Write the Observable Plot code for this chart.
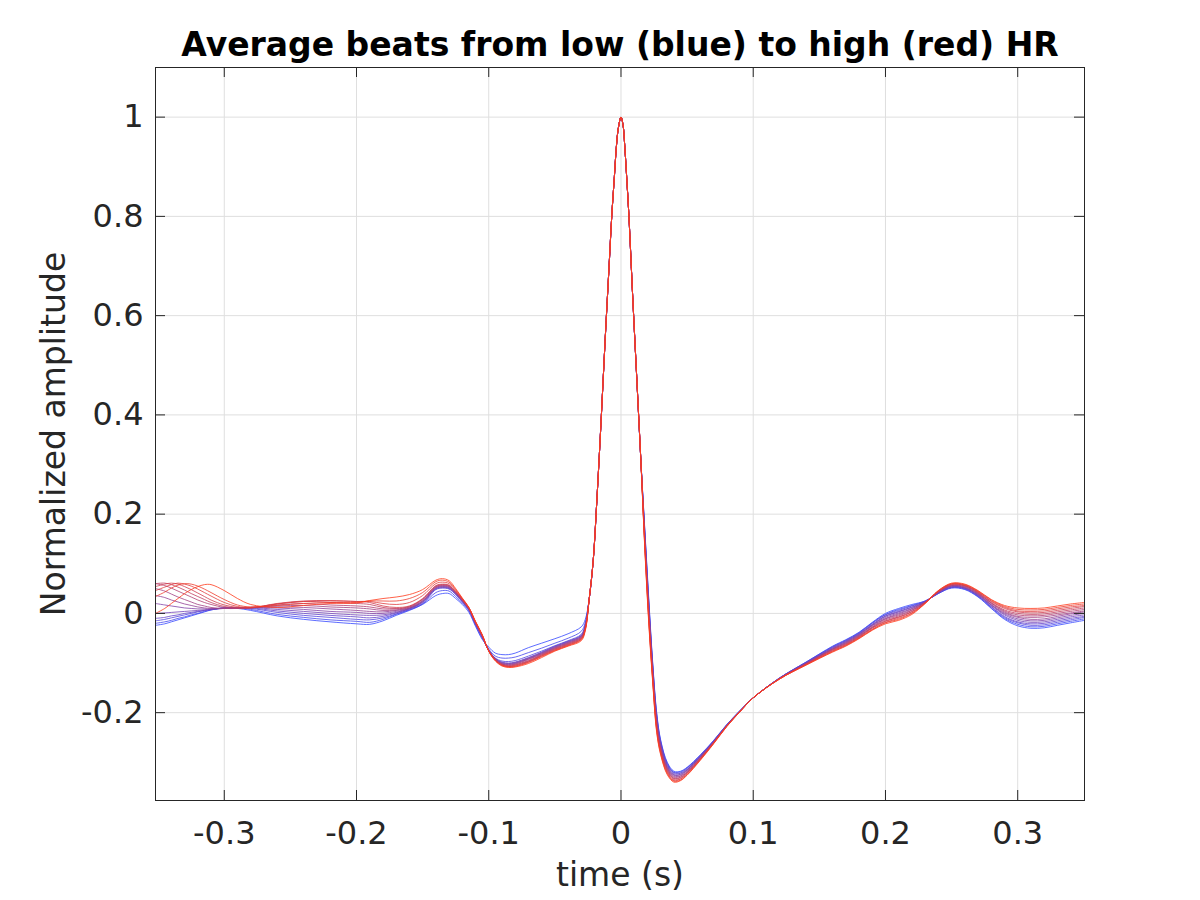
<!DOCTYPE html>
<html><head><meta charset="utf-8">
<script src="https://cdn.jsdelivr.net/npm/d3@7"></script>
<script src="https://cdn.jsdelivr.net/npm/@observablehq/plot@0.6"></script>
<style>html,body{margin:0;padding:0;background:#fff}</style>
</head><body>
<script>
const title = "Average beats from low (blue) to high (red) HR";
const xLabel = "time (s)";
const yLabel = "Normalized amplitude";
const xTicks = [-0.3, -0.2, -0.1, 0, 0.1, 0.2, 0.3];
const xTickLabels = ["-0.3", "-0.2", "-0.1", "0", "0.1", "0.2", "0.3"];
const yTicks = [-0.2, 0, 0.2, 0.4, 0.6, 0.8, 1];
const yTickLabels = ["-0.2", "0", "0.2", "0.4", "0.6", "0.8", "1"];
const beatCount = 14; // index 0 = lowest HR (blue) ... 13 = highest HR (red)

// Each row: time (s), then amplitude of beats 0..13 (blue -> red)
const beatsLeft = [
[-0.352, -0.024, -0.020, -0.015, -0.010, 0.000, 0.020, 0.036, 0.050, 0.060, 0.060, 0.054, 0.046, 0.034, 0.000],
[-0.345, -0.021, -0.017, -0.012, -0.008, 0.001, 0.017, 0.032, 0.045, 0.056, 0.061, 0.059, 0.053, 0.043, 0.010],
[-0.340, -0.017, -0.014, -0.009, -0.005, 0.002, 0.015, 0.027, 0.039, 0.051, 0.058, 0.061, 0.058, 0.051, 0.020],
[-0.335, -0.013, -0.010, -0.006, -0.003, 0.003, 0.013, 0.023, 0.033, 0.045, 0.053, 0.059, 0.061, 0.057, 0.030],
[-0.330, -0.009, -0.007, -0.003, 0.000, 0.004, 0.011, 0.019, 0.028, 0.039, 0.047, 0.054, 0.059, 0.060, 0.040],
[-0.325, -0.005, -0.003, 0.000, 0.002, 0.005, 0.010, 0.016, 0.023, 0.033, 0.040, 0.048, 0.055, 0.059, 0.048],
[-0.320, -0.001, 0.000, 0.003, 0.004, 0.006, 0.009, 0.013, 0.018, 0.027, 0.034, 0.041, 0.049, 0.055, 0.054],
[-0.315, 0.003, 0.004, 0.006, 0.006, 0.007, 0.009, 0.011, 0.015, 0.022, 0.028, 0.034, 0.042, 0.049, 0.058],
[-0.310, 0.007, 0.007, 0.008, 0.008, 0.008, 0.009, 0.010, 0.012, 0.018, 0.022, 0.027, 0.035, 0.042, 0.058],
[-0.300, 0.011, 0.011, 0.011, 0.011, 0.010, 0.010, 0.010, 0.010, 0.012, 0.014, 0.017, 0.022, 0.028, 0.046],
[-0.290, 0.010, 0.011, 0.011, 0.011, 0.011, 0.011, 0.011, 0.010, 0.010, 0.011, 0.012, 0.014, 0.017, 0.030],
[-0.280, 0.006, 0.008, 0.010, 0.011, 0.012, 0.012, 0.012, 0.012, 0.011, 0.011, 0.011, 0.012, 0.013, 0.018]
];
const beatsP = [
[-0.260, -0.005, -0.002, 0.002, 0.005, 0.008, 0.011, 0.013, 0.015, 0.017, 0.019, 0.020, 0.019, 0.016, 0.012],
[-0.240, -0.012, -0.008, -0.004, 0.000, 0.004, 0.008, 0.012, 0.016, 0.020, 0.024, 0.025, 0.024, 0.020, 0.016],
[-0.220, -0.017, -0.013, -0.008, -0.004, 0.000, 0.004, 0.009, 0.013, 0.017, 0.022, 0.026, 0.025, 0.022, 0.020],
[-0.200, -0.021, -0.016, -0.012, -0.007, -0.003, 0.002, 0.006, 0.011, 0.015, 0.020, 0.024, 0.024, 0.022, 0.021],
[-0.190, -0.022, -0.018, -0.013, -0.009, -0.004, 0.000, 0.004, 0.009, 0.013, 0.018, 0.022, 0.024, 0.025, 0.026],
[-0.180, -0.015, -0.012, -0.009, -0.006, -0.003, 0.000, 0.003, 0.006, 0.009, 0.012, 0.015, 0.020, 0.025, 0.030],
[-0.170, -0.004, -0.002, -0.001, 0.001, 0.002, 0.004, 0.006, 0.007, 0.009, 0.010, 0.012, 0.018, 0.025, 0.033],
[-0.160, 0.006, 0.007, 0.008, 0.009, 0.010, 0.010, 0.011, 0.012, 0.013, 0.014, 0.015, 0.022, 0.030, 0.038],
[-0.150, 0.018, 0.019, 0.020, 0.022, 0.023, 0.024, 0.025, 0.026, 0.028, 0.029, 0.030, 0.036, 0.042, 0.048],
[-0.140, 0.036, 0.042, 0.048, 0.049, 0.050, 0.051, 0.052, 0.053, 0.054, 0.055, 0.056, 0.060, 0.064, 0.067],
[-0.135, 0.040, 0.046, 0.051, 0.052, 0.053, 0.054, 0.055, 0.056, 0.057, 0.058, 0.059, 0.063, 0.067, 0.070],
[-0.130, 0.040, 0.045, 0.049, 0.050, 0.051, 0.052, 0.053, 0.054, 0.055, 0.056, 0.057, 0.060, 0.063, 0.066],
[-0.125, 0.030, 0.034, 0.038, 0.039, 0.040, 0.040, 0.041, 0.042, 0.042, 0.043, 0.044, 0.046, 0.048, 0.050],
[-0.120, 0.018, 0.021, 0.023, 0.024, 0.025, 0.025, 0.026, 0.027, 0.027, 0.028, 0.029, 0.029, 0.030, 0.031]
];
const beatsQ = [
[-0.115, 0.002, 0.005, 0.007, 0.007, 0.008, 0.008, 0.009, 0.009, 0.010, 0.010, 0.011, 0.011, 0.012, 0.012],
[-0.110, -0.026, -0.024, -0.022, -0.021, -0.021, -0.020, -0.020, -0.019, -0.019, -0.018, -0.018, -0.017, -0.017, -0.016],
[-0.105, -0.052, -0.050, -0.048, -0.047, -0.047, -0.046, -0.046, -0.045, -0.045, -0.044, -0.044, -0.043, -0.043, -0.042],
[-0.100, -0.068, -0.072, -0.074, -0.074, -0.074, -0.074, -0.075, -0.075, -0.075, -0.075, -0.076, -0.076, -0.076, -0.076],
[-0.095, -0.080, -0.086, -0.090, -0.091, -0.091, -0.092, -0.092, -0.093, -0.093, -0.094, -0.094, -0.095, -0.095, -0.096],
[-0.090, -0.083, -0.090, -0.096, -0.098, -0.099, -0.100, -0.101, -0.102, -0.102, -0.103, -0.104, -0.104, -0.105, -0.106],
[-0.085, -0.083, -0.090, -0.097, -0.100, -0.101, -0.102, -0.103, -0.104, -0.105, -0.106, -0.107, -0.107, -0.108, -0.109],
[-0.080, -0.080, -0.088, -0.095, -0.098, -0.099, -0.100, -0.101, -0.102, -0.103, -0.104, -0.105, -0.106, -0.107, -0.108],
[-0.070, -0.069, -0.079, -0.086, -0.089, -0.090, -0.091, -0.092, -0.093, -0.095, -0.096, -0.097, -0.098, -0.099, -0.101],
[-0.060, -0.060, -0.070, -0.076, -0.078, -0.079, -0.080, -0.081, -0.082, -0.083, -0.084, -0.085, -0.086, -0.087, -0.089],
[-0.050, -0.051, -0.060, -0.065, -0.066, -0.067, -0.068, -0.069, -0.070, -0.071, -0.072, -0.073, -0.074, -0.075, -0.076],
[-0.040, -0.041, -0.050, -0.055, -0.056, -0.057, -0.058, -0.059, -0.060, -0.061, -0.062, -0.063, -0.064, -0.065, -0.066],
[-0.030, -0.027, -0.036, -0.042, -0.044, -0.045, -0.046, -0.047, -0.048, -0.049, -0.050, -0.051, -0.052, -0.053, -0.055],
[-0.027, -0.012, -0.018, -0.022, -0.024, -0.025, -0.026, -0.027, -0.028, -0.029, -0.030, -0.031, -0.032, -0.033, -0.035]
];
// QRS complex: shared by all beats
const qrsTime  = [-0.024, -0.021, -0.018, -0.015, -0.012, -0.009, -0.007, -0.005, -0.0035, -0.002, 0, 0.0015, 0.003, 0.0045, 0.006, 0.009, 0.012, 0.015];
const qrsValue = [0.030, 0.107, 0.240, 0.390, 0.550, 0.700, 0.800, 0.880, 0.940, 0.978, 1.000, 0.985, 0.935, 0.870, 0.800, 0.630, 0.470, 0.310];
const beatsS = [
[0.018, 0.170, 0.167, 0.164, 0.161, 0.158, 0.155, 0.152, 0.148, 0.145, 0.142, 0.139, 0.136, 0.133, 0.130],
[0.021, 0.030, 0.026, 0.022, 0.018, 0.015, 0.011, 0.007, 0.003, -0.001, -0.005, -0.008, -0.012, -0.016, -0.020],
[0.024, -0.100, -0.103, -0.106, -0.109, -0.112, -0.115, -0.118, -0.122, -0.125, -0.128, -0.131, -0.134, -0.137, -0.140],
[0.027, -0.200, -0.203, -0.206, -0.209, -0.212, -0.215, -0.218, -0.222, -0.225, -0.228, -0.231, -0.234, -0.237, -0.240],
[0.030, -0.255, -0.257, -0.260, -0.262, -0.264, -0.267, -0.269, -0.271, -0.273, -0.276, -0.278, -0.280, -0.283, -0.285],
[0.035, -0.300, -0.302, -0.304, -0.306, -0.308, -0.310, -0.312, -0.313, -0.315, -0.317, -0.319, -0.321, -0.323, -0.325],
[0.040, -0.318, -0.320, -0.321, -0.323, -0.325, -0.326, -0.328, -0.330, -0.332, -0.333, -0.335, -0.337, -0.338, -0.340],
[0.045, -0.318, -0.319, -0.321, -0.322, -0.324, -0.325, -0.327, -0.328, -0.330, -0.331, -0.333, -0.334, -0.336, -0.337],
[0.050, -0.310, -0.311, -0.312, -0.314, -0.315, -0.316, -0.317, -0.319, -0.320, -0.321, -0.322, -0.324, -0.325, -0.326],
[0.060, -0.285, -0.286, -0.287, -0.288, -0.288, -0.289, -0.290, -0.291, -0.292, -0.293, -0.293, -0.294, -0.295, -0.296],
[0.070, -0.256, -0.257, -0.257, -0.258, -0.258, -0.259, -0.259, -0.260, -0.260, -0.261, -0.261, -0.262, -0.262, -0.263],
[0.080, -0.224, -0.224, -0.225, -0.225, -0.225, -0.226, -0.226, -0.226, -0.226, -0.227, -0.227, -0.227, -0.228, -0.228],
[0.090, -0.196, -0.196, -0.196, -0.196, -0.197, -0.197, -0.197, -0.197, -0.197, -0.197, -0.198, -0.198, -0.198, -0.198],
[0.100, -0.170, -0.170, -0.170, -0.170, -0.170, -0.170, -0.170, -0.170, -0.170, -0.170, -0.170, -0.170, -0.170, -0.170]
];
const beatsT = [
[0.120, -0.130, -0.130, -0.130, -0.130, -0.131, -0.131, -0.131, -0.131, -0.131, -0.131, -0.132, -0.132, -0.132, -0.132],
[0.140, -0.098, -0.098, -0.099, -0.099, -0.100, -0.100, -0.101, -0.101, -0.102, -0.102, -0.103, -0.103, -0.104, -0.104],
[0.160, -0.066, -0.067, -0.068, -0.069, -0.070, -0.071, -0.072, -0.072, -0.073, -0.074, -0.075, -0.076, -0.077, -0.078],
[0.170, -0.053, -0.054, -0.055, -0.056, -0.057, -0.058, -0.059, -0.060, -0.061, -0.062, -0.063, -0.064, -0.065, -0.066],
[0.180, -0.038, -0.039, -0.040, -0.041, -0.042, -0.043, -0.044, -0.045, -0.046, -0.047, -0.048, -0.049, -0.050, -0.051],
[0.190, -0.018, -0.019, -0.020, -0.022, -0.023, -0.024, -0.025, -0.027, -0.028, -0.029, -0.030, -0.032, -0.033, -0.034],
[0.200, 0.000, -0.002, -0.003, -0.005, -0.006, -0.008, -0.010, -0.011, -0.013, -0.015, -0.016, -0.018, -0.019, -0.021],
[0.210, 0.010, 0.008, 0.006, 0.004, 0.003, 0.001, -0.001, -0.003, -0.005, -0.007, -0.008, -0.010, -0.012, -0.014],
[0.220, 0.018, 0.016, 0.015, 0.013, 0.012, 0.010, 0.009, 0.007, 0.006, 0.004, 0.003, 0.001, 0.000, -0.002],
[0.230, 0.025, 0.025, 0.024, 0.024, 0.023, 0.023, 0.023, 0.022, 0.022, 0.022, 0.021, 0.021, 0.020, 0.020],
[0.240, 0.040, 0.040, 0.041, 0.041, 0.042, 0.042, 0.043, 0.043, 0.044, 0.044, 0.045, 0.045, 0.046, 0.046],
[0.250, 0.051, 0.052, 0.053, 0.053, 0.054, 0.055, 0.056, 0.056, 0.057, 0.058, 0.059, 0.059, 0.060, 0.061],
[0.260, 0.048, 0.049, 0.050, 0.051, 0.051, 0.052, 0.053, 0.054, 0.055, 0.056, 0.056, 0.057, 0.058, 0.059],
[0.270, 0.033, 0.034, 0.035, 0.036, 0.037, 0.038, 0.039, 0.040, 0.041, 0.042, 0.043, 0.044, 0.045, 0.046],
[0.280, 0.010, 0.011, 0.013, 0.014, 0.016, 0.017, 0.018, 0.020, 0.021, 0.022, 0.024, 0.025, 0.027, 0.028],
[0.290, -0.012, -0.010, -0.008, -0.006, -0.003, -0.001, 0.001, 0.003, 0.005, 0.007, 0.010, 0.012, 0.014, 0.016],
[0.300, -0.025, -0.022, -0.019, -0.017, -0.014, -0.011, -0.008, -0.006, -0.003, 0.000, 0.003, 0.005, 0.008, 0.011],
[0.310, -0.030, -0.027, -0.024, -0.021, -0.018, -0.015, -0.012, -0.008, -0.005, -0.002, 0.001, 0.004, 0.007, 0.010],
[0.320, -0.029, -0.026, -0.023, -0.020, -0.017, -0.014, -0.011, -0.007, -0.004, -0.001, 0.002, 0.005, 0.008, 0.011],
[0.330, -0.024, -0.021, -0.018, -0.015, -0.012, -0.009, -0.006, -0.003, 0.000, 0.003, 0.006, 0.009, 0.012, 0.015],
[0.340, -0.019, -0.016, -0.013, -0.010, -0.007, -0.004, -0.001, 0.001, 0.004, 0.007, 0.010, 0.013, 0.016, 0.019],
[0.3505, -0.014, -0.011, -0.008, -0.006, -0.003, 0.000, 0.003, 0.005, 0.008, 0.011, 0.014, 0.016, 0.019, 0.022]
];

// Assemble long-form table for Plot
const data = [];
for (let k = 0; k < beatCount; k++) {
  for (const r of [...beatsLeft, ...beatsP, ...beatsQ]) data.push({t: r[0], v: r[1 + k], beat: k});
  qrsTime.forEach((t, i) => data.push({t, v: qrsValue[i], beat: k}));
  for (const r of [...beatsS, ...beatsT]) data.push({t: r[0], v: r[1 + k], beat: k});
}

const W = 1200, H = 900, mL = 155, mR = 116, mT = 67, mB = 100;
const plotW = W - mL - mR, plotH = H - mT - mB;
const axisColor = "#262626", gridColor = "#dfdfdf";

const chart = Plot.plot({
  width: W, height: H,
  marginLeft: mL, marginRight: mR, marginTop: mT, marginBottom: mB,
  style: {fontFamily: "DejaVu Sans", background: "#fff", overflow: "visible"},
  x: {domain: [-0.352, 0.3505], axis: null},
  y: {domain: [-0.377, 1.1], axis: null},
  color: {type: "linear", domain: [0, beatCount - 1], range: ["#3446ff", "#ff3a1a"], interpolate: "rgb"},
  marks: [
    Plot.ruleX(xTicks, {stroke: gridColor, strokeWidth: 1}),
    Plot.ruleY(yTicks, {stroke: gridColor, strokeWidth: 1}),
    Plot.line(data, {x: "t", y: "v", z: "beat", stroke: "beat", strokeWidth: 0.8, curve: "catmull-rom", clip: true}),
    Plot.frame({stroke: axisColor, strokeWidth: 1}),
    Plot.ruleX(xTicks, {stroke: axisColor, insetTop: plotH - 10}),
    Plot.ruleX(xTicks, {stroke: axisColor, insetBottom: plotH - 10}),
    Plot.ruleY(yTicks, {stroke: axisColor, insetRight: plotW - 10}),
    Plot.ruleY(yTicks, {stroke: axisColor, insetLeft: plotW - 10}),
    Plot.text(xTicks, {x: d => d, text: (d, i) => xTickLabels[i], frameAnchor: "bottom", dy: 43, lineAnchor: "bottom", textAnchor: "middle", fontSize: 32, fill: axisColor}),
    Plot.text(yTicks, {y: d => d, text: (d, i) => yTickLabels[i], frameAnchor: "left", dx: -12, textAnchor: "end", fontSize: 32, fill: axisColor}),
    Plot.text([title], {text: d => d, frameAnchor: "top", dy: -12, lineAnchor: "bottom", textAnchor: "middle", fontSize: 33, fontWeight: "bold", fill: "#000"}),
    Plot.text([xLabel], {text: d => d, frameAnchor: "bottom", dy: 85, lineAnchor: "bottom", textAnchor: "middle", fontSize: 33, fill: axisColor}),
    Plot.text([yLabel], {text: d => d, frameAnchor: "left", dx: -91, rotate: -90, lineAnchor: "bottom", textAnchor: "middle", fontSize: 33, fill: axisColor})
  ]
});
document.body.appendChild(chart);
</script>
</body></html>
